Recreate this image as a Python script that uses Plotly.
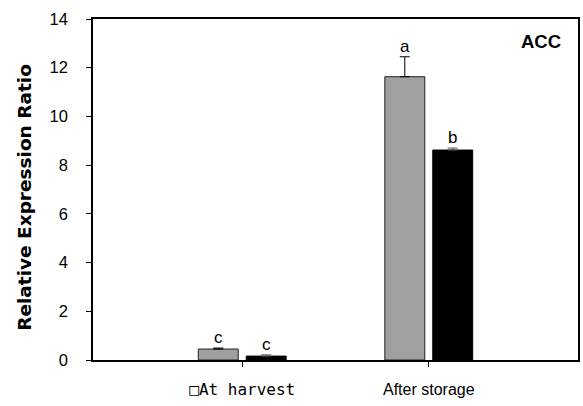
import plotly.graph_objects as go

categories = ["\u25a1At harvest", "After storage"]
gray_values = [0.45, 11.63]
gray_errors = [0.04, 0.82]
black_values = [0.16, 8.62]
black_errors = [0.05, 0.08]
gray_letters = ["c", "a"]
black_letters = ["c", "b"]
y_ticks = [0, 2, 4, 6, 8, 10, 12, 14]
y_title = "Relative Expression Ratio"
panel_label = "ACC"

FONT = "Liberation Sans, Arial, sans-serif"
MONO = "DejaVu Sans Mono, monospace"

tick_text = ['<span style="font-family:%s">%s</span>' % (MONO, categories[0]), categories[1]]

fig = go.Figure()
fig.add_trace(go.Bar(
    x=categories, y=gray_values, name="gray",
    marker=dict(color="#a0a0a0", line=dict(color="#202020", width=1)),
    error_y=dict(type="data", array=gray_errors, arrayminus=[0, 0], symmetric=False,
                 color="black", thickness=1, width=5),
))
fig.add_trace(go.Bar(
    x=categories, y=black_values, name="black",
    marker=dict(color="black", line=dict(color="black", width=1)),
    error_y=dict(type="data", array=black_errors, arrayminus=[0, 0], symmetric=False,
                 color="#555555", thickness=1, width=5),
))

annotations = []
for i, c in enumerate(categories):
    annotations.append(dict(x=c, y=gray_values[i] + gray_errors[i], xref="x", yref="y",
                            text=gray_letters[i], showarrow=False, yanchor="bottom",
                            xshift=-24, yshift=-1, font=dict(family=FONT, size=17, color="black")))
    annotations.append(dict(x=c, y=black_values[i] + black_errors[i], xref="x", yref="y",
                            text=black_letters[i], showarrow=False, yanchor="bottom",
                            xshift=24, yshift=-1, font=dict(family=FONT, size=17, color="black")))
annotations.append(dict(x=0.969, y=0.934, xref="paper", yref="paper", text="<b>%s</b>" % panel_label,
                        showarrow=False, xanchor="right", yanchor="middle",
                        font=dict(family=FONT, size=18.5, color="black")))
annotations.append(dict(x=-0.1427, y=0.478, xref="paper", yref="paper", text="<b>%s</b>" % y_title,
                        showarrow=False, xanchor="center", yanchor="middle", textangle=-90,
                        font=dict(family="DejaVu Sans, sans-serif", size=18.5, color="black")))

fig.update_layout(
    width=583, height=406,
    margin=dict(l=93, r=3, t=19, b=46),
    paper_bgcolor="white", plot_bgcolor="white",
    barmode="group", bargap=0.486, bargroupgap=0.167,
    showlegend=False,
    font=dict(family=FONT, size=16, color="black"),
    annotations=annotations,
)
fig.update_xaxes(
    range=[-0.8, 1.8], showline=True, linecolor="black", linewidth=1.5, mirror=True,
    ticks="outside", ticklen=5, tickcolor="black", showgrid=False,
    tickvals=categories, ticktext=tick_text, ticklabelstandoff=9,
    tickfont=dict(family=FONT, size=16),
)
fig.update_yaxes(
    range=[0, 14], tickvals=y_ticks, showline=True, linecolor="black", linewidth=1.5, mirror=True,
    ticks="outside", ticklen=5, tickcolor="black", showgrid=False, zeroline=False,
    ticklabelstandoff=15,
    tickfont=dict(family=FONT, size=16.5),
)

fig.write_html("out.html")
